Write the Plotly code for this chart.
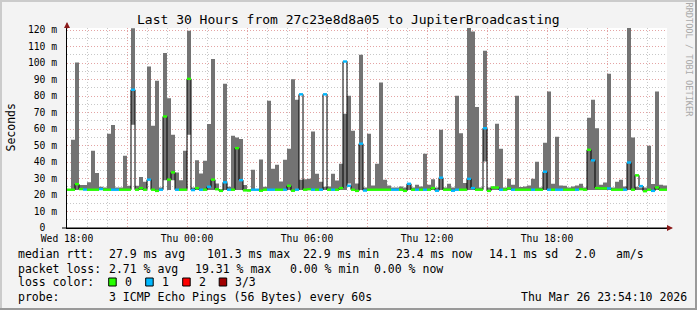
import plotly.graph_objects as go
import pandas as pd

# ---------------- data (ms) ----------------
START = "2026-03-25 18:00"
STEP_MINUTES = 12

ping_max = [
    23.6, 53.5, 100.3, 26.0, 26.0, 27.8, 46.8, 33.3, 25.0, 24.5,
    57.1, 62.4, 24.5, 24.5, 43.8, 25.6, 121.0, 25.6, 30.9, 28.0,
    97.9, 62.0, 89.2, 24.5, 106.0, 78.7, 56.5, 33.7, 29.0, 46.8,
    119.6, 24.5, 41.0, 33.0, 40.8, 63.0, 102.4, 27.0, 23.5, 87.4,
    25.0, 55.9, 54.9, 54.0, 26.0, 23.5, 35.3, 23.5, 41.5, 25.0,
    77.1, 35.9, 38.3, 28.2, 41.4, 48.0, 90.2, 77.7, 29.3, 29.6,
    29.8, 58.5, 32.9, 28.0, 25.0, 25.2, 32.9, 28.8, 38.9, 69.2,
    80.1, 58.9, 27.0, 105.0, 24.5, 57.1, 25.8, 38.9, 88.2, 29.3,
    25.8, 24.5, 24.5, 25.2, 24.5, 27.2, 24.5, 26.2, 25.2, 45.0,
    26.2, 29.6, 24.5, 59.5, 24.5, 26.8, 24.5, 80.1, 57.5, 27.2,
    121.5, 119.1, 73.3, 24.5, 107.4, 24.5, 25.2, 63.2, 48.0, 24.5,
    29.8, 26.2, 80.1, 24.8, 25.2, 25.8, 29.8, 40.1, 24.5, 51.7,
    82.8, 26.8, 55.3, 25.8, 25.6, 24.5, 25.2, 25.8, 26.8, 24.5,
    66.8, 77.7, 60.5, 26.2, 27.6, 93.5, 24.5, 28.0, 29.3, 25.2,
    121.5, 54.9, 25.0, 24.5, 24.5, 49.8, 26.6, 82.8, 26.2, 25.8,
]

ping_min = [23.0] * 150
for i, v in [(16, 62.6), (20, 29.3), (24, 29.0), (26, 29.0), (30, 56.5),
             (70, 27.0), (104, 40.3)]:
    ping_min[i] = v

median = [
    23.2, 23.2, 26.6, 23.6, 23.3, 23.2, 23.2, 23.2, 23.6, 23.2,
    23.2, 23.2, 23.2, 23.2, 23.2, 23.2, 83.8, 23.2, 24.2, 23.2,
    29.3, 23.2, 22.5, 23.2, 67.6, 29.3, 33.7, 23.2, 23.2, 23.2,
    90.4, 23.0, 24.2, 23.2, 23.2, 25.0, 29.3, 23.5, 22.5, 27.7,
    23.2, 23.2, 48.4, 29.0, 22.8, 22.7, 23.2, 23.2, 22.6, 23.2,
    23.2, 23.2, 23.2, 23.2, 23.2, 25.6, 22.6, 23.2, 81.0, 23.2,
    23.5, 23.2, 23.2, 23.2, 81.0, 23.2, 23.2, 23.2, 24.2, 100.9,
    25.6, 23.2, 22.5, 51.1, 22.7, 23.2, 23.2, 23.2, 23.2, 23.2,
    23.2, 23.2, 23.2, 23.2, 22.5, 26.8, 23.2, 23.2, 23.2, 23.2,
    23.2, 24.2, 22.6, 30.5, 23.2, 23.2, 22.6, 23.2, 23.2, 23.2,
    29.8, 24.2, 23.2, 23.2, 60.5, 22.5, 24.5, 24.5, 23.2, 23.2,
    24.0, 23.2, 23.2, 23.2, 23.2, 23.2, 23.2, 23.2, 23.2, 34.1,
    23.2, 23.2, 23.2, 23.2, 23.2, 23.2, 23.2, 23.2, 23.5, 23.2,
    47.4, 41.0, 24.2, 24.0, 24.0, 24.0, 23.2, 23.2, 23.2, 23.2,
    39.7, 23.2, 31.9, 25.4, 22.3, 23.2, 22.5, 24.6, 23.2, 23.2,
]

loss = [
    0, 0, 0, 0, 1, 0, 0, 0, 1, 0,
    0, 1, 1, 0, 0, 0, 1, 0, 0, 0,
    1, 0, 0, 1, 0, 0, 0, 1, 0, 0,
    0, 1, 0, 1, 0, 1, 0, 0, 0, 1,
    1, 0, 0, 1, 0, 0, 1, 1, 0, 0,
    1, 1, 0, 0, 1, 0, 0, 1, 1, 0,
    0, 1, 0, 1, 1, 0, 1, 0, 0, 1,
    1, 0, 0, 1, 1, 0, 0, 0, 0, 0,
    0, 1, 1, 0, 0, 1, 0, 1, 0, 1,
    0, 0, 1, 1, 0, 0, 1, 1, 0, 0,
    1, 1, 0, 0, 1, 0, 0, 0, 1, 0,
    0, 1, 0, 0, 0, 0, 1, 0, 0, 1,
    1, 0, 1, 1, 0, 0, 0, 1, 0, 0,
    0, 1, 0, 0, 0, 1, 0, 0, 0, 1,
    1, 0, 0, 1, 0, 0, 1, 0, 0, 0,
]

loss_labels = ["0", "1", "2", "3/3"]
loss_colors = ["#26FF00", "#00B8FF", "#FF0000", "#A10000"]

y_ticks = list(range(0, 121, 10))
y_tick_labels = ["0\u00a0\u00a0"] + [f"{v} m" for v in y_ticks[1:]]
x_tick_labels = ["Wed 18:00", "", "Thu 00:00", "", "Thu 06:00", "",
                 "Thu 12:00", "", "Thu 18:00", ""]

legend_rows = [
    [("median rtt:", 16.4), ("27.9 ms avg", 107.3), ("101.3 ms max", 205),
     ("22.9 ms min", 300.7), ("23.4 ms now", 394), ("14.1 ms sd", 486.7),
     ("2.0", 572.7), ("am/s", 614)],
    [("packet loss:", 16.4), ("2.71 % avg", 107.3), ("19.31 % max", 193.3),
     ("0.00 % min", 287.5), ("0.00 % now", 371.7)],
    [("loss color:", 16.4), ("0", 122.7), ("1", 159.5), ("2", 196.7), ("3/3", 233.3)],
    [("probe:", 16.4), ("3 ICMP Echo Pings (56 Bytes) every 60s", 107.3)],
]
row_y = [254.4, 268.8, 282.4, 296.6]
box_x = [108.7, 145.7, 182.7, 219.2]
timestamp = "Thu Mar 26 23:54:10 2026"

# ---------------- geometry helpers ----------------
W, H = 697, 310
L, R, T, B = 67, 30, 28, 82
PW, PH = W - L - R, H - T - B
FONT = "DejaVu Sans Mono"


def px(xp):
    return (xp - L) / PW


def py(yp):
    return (H - B - yp) / PH


step = pd.Timedelta(minutes=STEP_MINUTES)
times = pd.date_range(START, periods=len(median), freq=f"{STEP_MINUTES}min")
x_start = pd.Timestamp(START)
x_end = x_start + step * len(median)
x_edges = list(times) + [x_end]

fig = go.Figure()

# smoke (min..max) as a stepped band
fig.add_trace(go.Scatter(
    x=x_edges, y=ping_min + [ping_min[-1]], mode="lines",
    line=dict(width=0, shape="hv", color="rgba(0,0,0,0)"), hoverinfo="skip",
))
fig.add_trace(go.Scatter(
    x=x_edges, y=ping_max + [ping_max[-1]], mode="lines",
    line=dict(width=0, shape="hv", color="rgba(0,0,0,0)"),
    fill="tonexty", fillcolor="#737373", hoverinfo="skip",
))

# median step line (black)
fig.add_trace(go.Scatter(
    x=x_edges, y=median + [median[-1]],
    mode="lines", line=dict(color="#000000", width=1, shape="hv"),
    hoverinfo="skip",
))

# median coloured by loss
for lvl, col in enumerate(loss_colors):
    xs, ys = [], []
    for t, m, l in zip(times, median, loss):
        if l == lvl:
            xs += [t, t + step, None]
            ys += [m, m, None]
    if xs:
        fig.add_trace(go.Scatter(x=xs, y=ys, mode="lines",
                                 line=dict(color=col, width=2.4),
                                 hoverinfo="skip"))

tick_times = pd.date_range(START, periods=len(x_tick_labels), freq="3h")

fig.update_layout(
    width=W, height=H, autosize=False,
    margin=dict(l=L, r=R, t=T, b=B, pad=0),
    paper_bgcolor="#F3F3F3", plot_bgcolor="#FFFFFF",
    showlegend=False,
    font=dict(family=FONT, color="#000000"),
    xaxis=dict(
        type="date", range=[x_start, x_start + pd.Timedelta(hours=30)],
        tickmode="array", tickvals=list(tick_times), ticktext=x_tick_labels,
        showgrid=True, gridcolor="#E4A4A4", griddash="1px,2px", gridwidth=1,
        ticks="", ticklabelstandoff=1,
        tickfont=dict(family=FONT, size=9.7, color="#000000"),
        showline=True, linecolor="#000000", linewidth=1,
        zeroline=False, fixedrange=True,
        minor=dict(tickmode="linear", tick0=x_start, dtick=3600000,
                   showgrid=True, gridcolor="#C8C8C8", griddash="1px,2px",
                   gridwidth=1),
    ),
    yaxis=dict(
        range=[0, PH / 1.65],
        tickmode="array", tickvals=y_ticks, ticktext=y_tick_labels,
        showgrid=True, gridcolor="#E4A4A4", griddash="1px,2px", gridwidth=1,
        tickfont=dict(family=FONT, size=9.7, color="#000000"),
        ticks="", ticklabelstandoff=7,
        showline=True, linecolor="#000000", linewidth=1,
        zeroline=False, fixedrange=True,
        minor=dict(tickmode="linear", tick0=0, dtick=5,
                   showgrid=True, gridcolor="#C8C8C8", griddash="1px,2px",
                   gridwidth=1),
    ),
)

ann = []
shapes = []

# title
ann.append(dict(text="Last 30 Hours from 27c23e8d8a05 to JupiterBroadcasting",
                x=px(348), y=py(19.3), xref="paper", yref="paper",
                xanchor="center", yanchor="middle", showarrow=False,
                font=dict(family=FONT, size=13, color="#000000")))
# y title
ann.append(dict(text="Seconds", x=px(10.5), y=py(128), xref="paper", yref="paper",
                xanchor="center", yanchor="middle", showarrow=False, textangle=-90,
                font=dict(family=FONT, size=11.5, color="#000000")))
# watermark
ann.append(dict(text="RRDTOOL / TOBI OETIKER", x=px(688.5), y=py(60), xref="paper",
                yref="paper", xanchor="center", yanchor="middle", showarrow=False,
                textangle=90, font=dict(family=FONT, size=8.6, color="#AAAAAA")))
# legend text
for row, yy in zip(legend_rows, row_y):
    for txt, xx in row:
        ann.append(dict(text=txt, x=px(xx), y=py(yy), xref="paper", yref="paper",
                        xanchor="left", yanchor="middle", showarrow=False,
                        font=dict(family=FONT, size=11.5, color="#000000")))
ann.append(dict(text=timestamp, x=px(689), y=py(row_y[3]), xref="paper", yref="paper",
                xanchor="right", yanchor="middle", showarrow=False,
                font=dict(family=FONT, size=11.5, color="#000000")))
# axis arrows
ann.append(dict(text="", x=px(673), y=0, xref="paper", yref="paper", ax=-8, ay=0,
                showarrow=True, arrowhead=2, arrowsize=1, arrowwidth=1.2,
                arrowcolor="#8B1A1A"))
ann.append(dict(text="", x=0, y=py(22), xref="paper", yref="paper", ax=0, ay=8,
                showarrow=True, arrowhead=2, arrowsize=1, arrowwidth=1.2,
                arrowcolor="#8B1A1A"))

# legend boxes
for bx, col in zip(box_x, loss_colors):
    shapes.append(dict(type="rect", xref="paper", yref="paper",
                       x0=px(bx), x1=px(bx + 7.5), y0=py(286), y1=py(278),
                       fillcolor=col, line=dict(color="#000000", width=1)))
# 3D frame
shapes += [
    dict(type="line", xref="paper", yref="paper", x0=px(0), x1=px(697),
         y0=py(1), y1=py(1), line=dict(color="#CBCBCB", width=2)),
    dict(type="line", xref="paper", yref="paper", x0=px(1), x1=px(1),
         y0=py(0), y1=py(310), line=dict(color="#CBCBCB", width=2)),
    dict(type="line", xref="paper", yref="paper", x0=px(0), x1=px(697),
         y0=py(309), y1=py(309), line=dict(color="#999999", width=2)),
    dict(type="line", xref="paper", yref="paper", x0=px(696), x1=px(696),
         y0=py(0), y1=py(310), line=dict(color="#999999", width=2)),
    # axis extension to the arrow
    dict(type="line", xref="paper", yref="paper", x0=px(62), x1=px(668),
         y0=0, y1=0, line=dict(color="#000000", width=1)),
]

fig.update_layout(annotations=ann, shapes=shapes)
fig.write_html("out.html")
